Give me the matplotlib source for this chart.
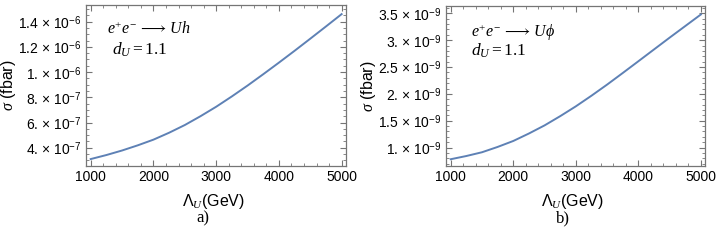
import numpy as np
import matplotlib.pyplot as plt
from matplotlib.ticker import MultipleLocator

plt.rcParams['font.family'] = ['Liberation Sans', 'DejaVu Sans']
plt.rcParams['mathtext.fontset'] = 'custom'
plt.rcParams['mathtext.rm'] = 'Liberation Serif'
plt.rcParams['mathtext.it'] = 'Liberation Serif:italic'
plt.rcParams['mathtext.sf'] = 'Liberation Sans'

# --- data ---
lam = [1000, 1250, 1500, 1750, 2000, 2250, 2500, 2750, 3000,
       3250, 3500, 3750, 4000, 4250, 4500, 4750, 5000]  # Lambda_U, GeV
sigma_uh = [3.10e-7, 3.42e-7, 3.78e-7, 4.19e-7, 4.64e-7, 5.19e-7, 5.80e-7, 6.50e-7, 7.25e-7,
            8.07e-7, 8.93e-7, 9.83e-7, 1.075e-6, 1.169e-6, 1.265e-6, 1.362e-6, 1.46e-6]
sigma_uphi = [0.783e-9, 0.843e-9, 0.913e-9, 1.012e-9, 1.123e-9, 1.262e-9, 1.413e-9, 1.585e-9,
              1.768e-9, 1.966e-9, 2.173e-9, 2.389e-9, 2.608e-9, 2.828e-9, 3.048e-9, 3.264e-9,
              3.48e-9]

xticks = [1000, 2000, 3000, 4000, 5000]
yticks_a = [4e-7, 6e-7, 8e-7, 1e-6, 1.2e-6, 1.4e-6]
ylabels_a = ['4. × 10$^{\\mathsf{-7}}$', '6. × 10$^{\\mathsf{-7}}$', '8. × 10$^{\\mathsf{-7}}$',
             '1. × 10$^{\\mathsf{-6}}$', '1.2 × 10$^{\\mathsf{-6}}$', '1.4 × 10$^{\\mathsf{-6}}$']
yticks_b = [1e-9, 1.5e-9, 2e-9, 2.5e-9, 3e-9, 3.5e-9]
ylabels_b = ['1. × 10$^{\\mathsf{-9}}$', '1.5 × 10$^{\\mathsf{-9}}$', '2. × 10$^{\\mathsf{-9}}$',
             '2.5 × 10$^{\\mathsf{-9}}$', '3. × 10$^{\\mathsf{-9}}$', '3.5 × 10$^{\\mathsf{-9}}$']

line_col = '#5E81B5'
frame_col = '#757575'

fig = plt.figure(figsize=(7.22, 2.4), dpi=100)
W, H = 722.0, 240.0


def px_axes(l, t, r, b):
    return fig.add_axes([l / W, 1 - b / H, (r - l) / W, (b - t) / H])


def style(ax, yt, yl, ylim, yminor):
    ax.set_xlim(925, 5065)
    ax.set_ylim(*ylim)
    ax.set_xticks(xticks)
    ax.set_xticklabels([str(v) for v in xticks])
    ax.set_yticks(yt)
    ax.set_yticklabels(yl)
    ax.xaxis.set_minor_locator(MultipleLocator(200))
    ax.yaxis.set_minor_locator(MultipleLocator(yminor))
    ax.tick_params(which='both', direction='in', top=True, right=True,
                   colors=frame_col, labelcolor='black', labelsize=10, pad=3)
    ax.tick_params(which='major', length=4, width=0.8)
    ax.tick_params(which='minor', length=2, width=0.6)
    for s in ax.spines.values():
        s.set_color(frame_col)
        s.set_linewidth(0.9)
    ax.set_xlabel('Λ$_{U}$(GeV)', fontsize=11.5)
    ax.set_ylabel('$\\sigma$ (fbar)', fontsize=11.5)
    ax.xaxis.set_label_coords(0.49, -0.16)
    ax.yaxis.set_label_coords(-0.262, 0.5)


# --- panel a ---
ax1 = px_axes(86, 5.3, 345.7, 166)
ax1.plot(lam, sigma_uh, color=line_col, lw=1.4)
style(ax1, yticks_a, ylabels_a, (2.55e-7, 1.53e-6), 5e-8)
ax1.text(0.08, 0.855, '$e^{+}e^{-}\\,\\longrightarrow\\, Uh$', transform=ax1.transAxes,
         fontsize=11.5, va='center')
ax1.text(0.1, 0.72, '$d_{U}=\\mathrm{1.1}$', transform=ax1.transAxes,
         fontsize=12.5, va='center')
fig.text(203 / W, 1 - 218 / H, 'a)', family='Liberation Serif', fontsize=12,
         ha='center', va='center')

# --- panel b ---
ax2 = px_axes(446, 6, 705, 166)
ax2.plot(lam, sigma_uphi, color=line_col, lw=1.4)
style(ax2, yticks_b, ylabels_b, (0.657e-9, 3.637e-9), 1e-10)
ax2.text(0.095, 0.835, '$e^{+}e^{-}\\,\\longrightarrow\\, U\\phi$', transform=ax2.transAxes,
         fontsize=11.5, va='center')
ax2.text(0.095, 0.72, '$d_{U}=\\mathrm{1.1}$', transform=ax2.transAxes,
         fontsize=12.5, va='center')
fig.text(563 / W, 1 - 218 / H, 'b)', family='Liberation Serif', fontsize=12,
         ha='center', va='center')

fig.savefig('out.png', dpi=100)
